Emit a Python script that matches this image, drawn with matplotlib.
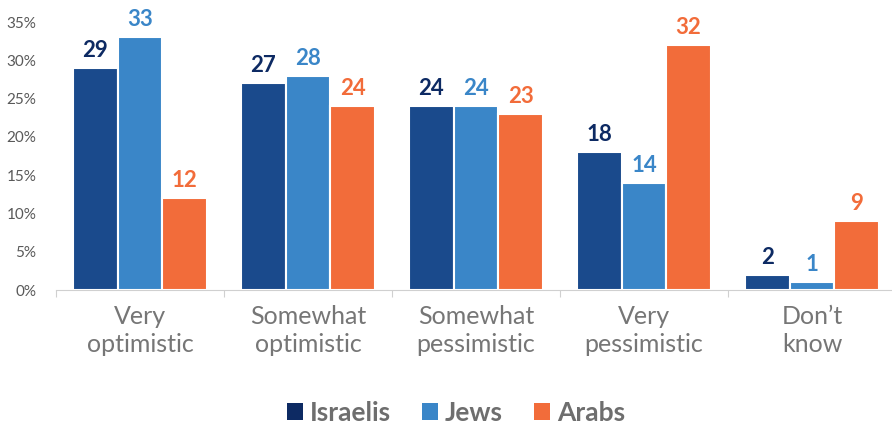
import numpy as np
import matplotlib.pyplot as plt
from matplotlib.patches import Patch

categories = ["Very\noptimistic", "Somewhat\noptimistic", "Somewhat\npessimistic",
              "Very\npessimistic", "Don\u2019t\nknow"]
israelis = [29, 27, 24, 18, 2]
jews = [33, 28, 24, 14, 1]
arabs = [12, 24, 23, 32, 9]

series_names = ["Israelis", "Jews", "Arabs"]
bar_colors = ["#1a4a8c", "#3a86c8", "#f26c3a"]
label_colors = ["#0d2a63", "#3a86c8", "#f26c3a"]
legend_colors = ["#0d2a63", "#3a86c8", "#f26c3a"]

plt.rcParams["font.family"] = ["Lato", "DejaVu Sans"]

fig = plt.figure(figsize=(8.92, 4.26), dpi=100)
ax = fig.add_axes([56 / 892, 136 / 426, 840 / 892, 268 / 426])

x = np.arange(len(categories))
width = 0.265
for i, (vals, col, lcol) in enumerate(zip([israelis, jews, arabs], bar_colors, label_colors)):
    pos = x + (i - 1) * width
    bars = ax.bar(pos, vals, width, color=col, edgecolor="white", linewidth=1.5)
    for b, v in zip(bars, vals):
        ax.text(b.get_x() + b.get_width() / 2, v + 0.9, str(v), ha="center", va="bottom",
                fontsize=16, fontweight="bold", color=lcol, clip_on=False)

ax.set_xlim(-0.5, len(categories) - 0.5)
ax.set_ylim(0, 35)
ax.set_yticks(np.arange(0, 36, 5))
ax.set_yticklabels([f"{t}%" for t in range(0, 36, 5)], fontsize=11, color="#595959")
ax.tick_params(axis="y", length=0, pad=14)

ax.set_xticks(np.arange(-0.5, len(categories), 1.0), minor=False)
ax.set_xticklabels([])
ax.tick_params(axis="x", length=5, color="#d0d0d0", direction="out")
for xi, cat in zip(x, categories):
    ax.text(xi, -2.0, cat, ha="center", va="top", fontsize=18, color="#767676",
            linespacing=1.25, transform=ax.transData)

for side in ["top", "right", "left"]:
    ax.spines[side].set_visible(False)
ax.spines["bottom"].set_color("#d0d0d0")

handles = [Patch(facecolor=c, edgecolor="none") for c in legend_colors]
leg = fig.legend(handles, series_names, loc="center", bbox_to_anchor=(456 / 892, 13 / 426),
                 ncol=3, frameon=False, handlelength=0.6, handleheight=0.6,
                 handletextpad=0.25, columnspacing=1.2,
                 prop={"size": 19, "weight": "bold"})
for t in leg.get_texts():
    t.set_color("#6e6e6e")

fig.savefig("out.png", dpi=100)
